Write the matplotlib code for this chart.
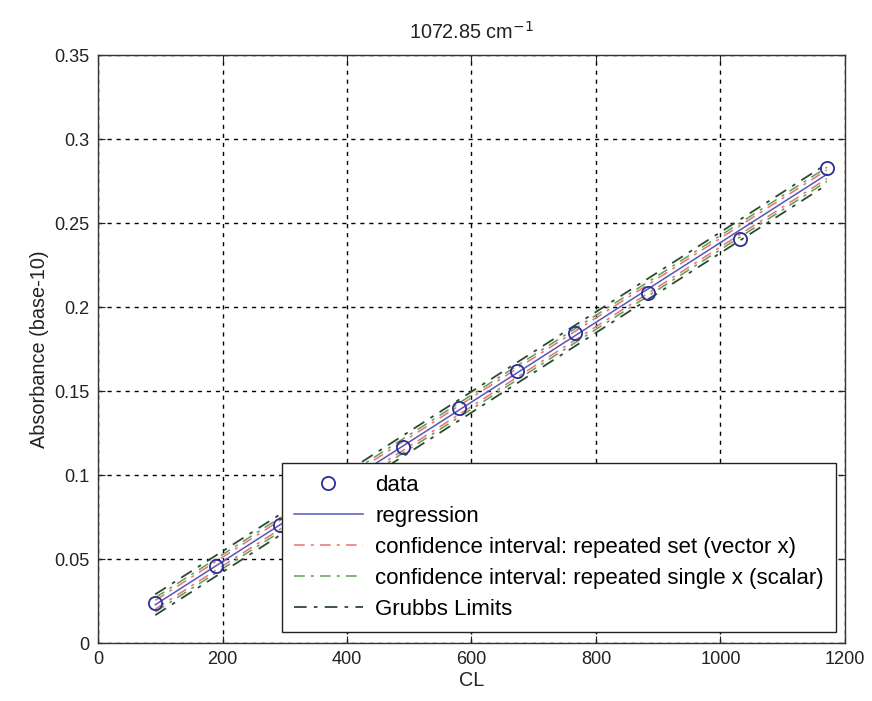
import matplotlib
matplotlib.use("Agg")
import matplotlib.pyplot as plt
import numpy as np

plt.rcParams['font.family'] = ['Liberation Sans', 'DejaVu Sans']

# data
cl = [92, 190, 292, 390, 490, 580, 673, 767, 883, 1031, 1171]
absorb = [0.0236, 0.0458, 0.0702, 0.0945, 0.1168, 0.1397, 0.1621, 0.1843, 0.2082, 0.2403, 0.2826]

# regression line endpoints (read)
reg_x = [92, 1171]
reg_y = [0.0228, 0.2790]

# band half-widths at the two ends (read)
ci_vec_hw = [0.0026, 0.0026]
ci_sca_hw = [0.0042, 0.0042]
grubbs_hw = [0.0062, 0.0062]

xticks = [0, 200, 400, 600, 800, 1000, 1200]
yticks = [0, 0.05, 0.1, 0.15, 0.2, 0.25, 0.3, 0.35]
ytick_labels = ['0', '0.05', '0.1', '0.15', '0.2', '0.25', '0.3', '0.35']

fig = plt.figure(figsize=(8.72, 7.01), dpi=100)
ax = fig.add_axes([0.1124, 0.0827, 0.969 - 0.1124, 0.9215 - 0.0827])

dash = (0, (7, 4, 2, 4))
rx = np.array(reg_x, dtype=float)
ry = np.array(reg_y, dtype=float)

ax.plot(cl, absorb, 'o', mfc='none', mec='#2b2f95', mew=1.3, ms=9.5, label='data', zorder=5)
ax.plot(rx, ry, '-', color='#5258b8', lw=1.1, label='regression', zorder=4)
ax.plot(rx, ry + np.array(ci_vec_hw), color='#e87272', lw=1.1, ls=dash,
        label='confidence interval: repeated set (vector x)')
ax.plot(rx, ry - np.array(ci_vec_hw), color='#e87272', lw=1.1, ls=dash)
ax.plot(rx, ry + np.array(ci_sca_hw), color='#5f9f55', lw=1.1, ls=dash,
        label='confidence interval: repeated single x (scalar)')
ax.plot(rx, ry - np.array(ci_sca_hw), color='#5f9f55', lw=1.1, ls=dash)
ax.plot(rx, ry + np.array(grubbs_hw), color='#2e4a30', lw=1.3, ls=dash, label='Grubbs Limits')
ax.plot(rx, ry - np.array(grubbs_hw), color='#2e4a30', lw=1.3, ls=dash)

ax.set_xlim(0, 1200)
ax.set_ylim(0, 0.35)
ax.set_xticks(xticks)
ax.set_yticks(yticks)
ax.set_xticklabels([str(t) for t in xticks])
ax.set_yticklabels(ytick_labels)
ax.grid(True, color='black', ls=(0, (3, 3.5)), lw=1.0)
ax.tick_params(direction='in', top=True, right=True, length=5, labelsize=13.1,
               colors='#222222', pad=6)
for s in ax.spines.values():
    s.set_color('#333333')
    s.set_linewidth(1.0)

ax.set_title('1072.85 cm$^{-1}$', fontsize=14.3, pad=12, color='#222222')
ax.set_xlabel('CL', fontsize=14.3, labelpad=2, color='#222222')
ax.set_ylabel('Absorbance (base-10)', fontsize=14.3, labelpad=4, color='#222222')

leg = ax.legend(loc='lower right', bbox_to_anchor=(0.988, 0.0187), borderaxespad=0,
                fontsize=16, handlelength=3.1, borderpad=0.55, labelspacing=0.45,
                handletextpad=0.55, fancybox=False, framealpha=1, edgecolor='#222222')
leg.get_frame().set_linewidth(1.0)

fig.savefig('out.png', dpi=100)
